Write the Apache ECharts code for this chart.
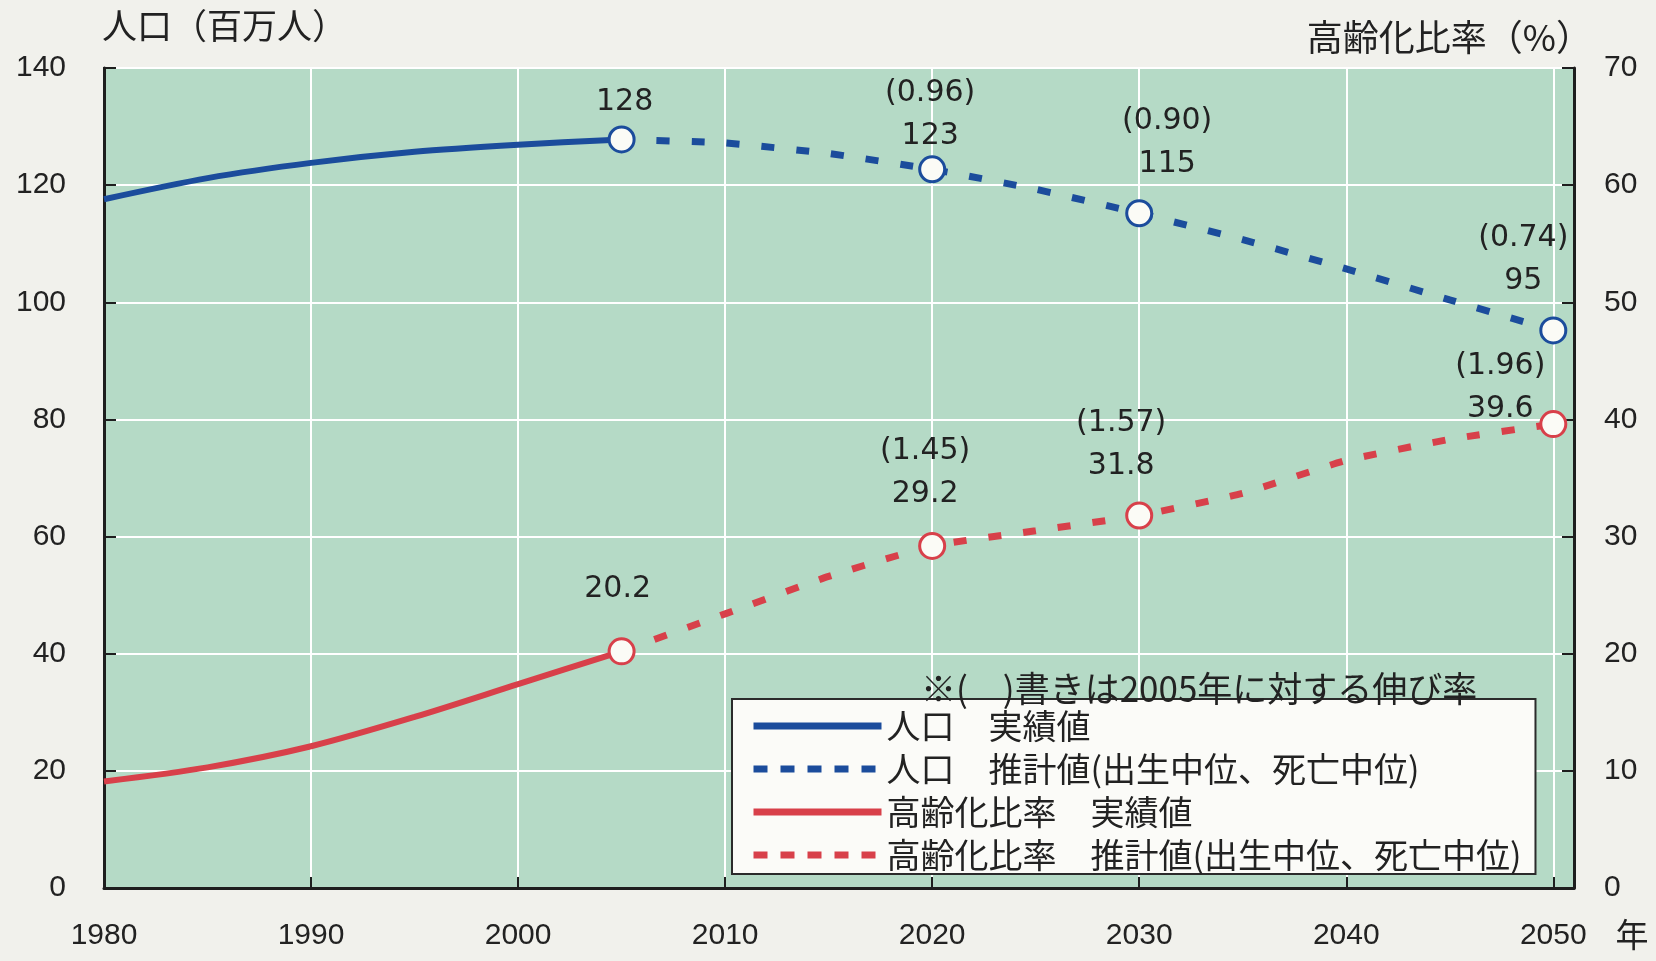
<!DOCTYPE html>
<html><head><meta charset="utf-8">
<script src="https://cdn.jsdelivr.net/npm/echarts@6/dist/echarts.min.js"></script>
<style>html,body{margin:0;padding:0;background:#f1f1ec;} #c{width:1656px;height:961px;}</style>
</head><body><div id="c"></div>
<script>
// ---- data ----
const yearsActual = [1980, 1985, 1990, 1995, 2000, 2005];
const popActual   = [117.6, 121.2, 123.8, 125.7, 126.9, 127.8];
const agingActual = [9.1, 10.3, 12.1, 14.6, 17.4, 20.2];
const yearsProj   = [2005, 2010, 2015, 2020, 2025, 2030, 2035, 2040, 2045, 2050];
const popProj     = [127.8, 127.2, 125.4, 122.7, 119.3, 115.2, 110.7, 105.7, 100.4, 95.2];
const agingProj   = [20.2, 23.4, 26.6, 29.2, 30.5, 31.8, 33.7, 36.5, 38.3, 39.6];
const markYears   = [2005, 2020, 2030, 2050];
const popMarkLabels   = ['128', '123', '115', '95'];
const popGrowth       = ['', '(0.96)', '(0.90)', '(0.74)'];
const agingMarkLabels = ['20.2', '29.2', '31.8', '39.6'];
const agingGrowth     = ['', '(1.45)', '(1.57)', '(1.96)'];
const seriesNames = ['人口\u3000実績値', '人口\u3000推計値(出生中位、死亡中位)', '高齢化比率\u3000実績値', '高齢化比率\u3000推計値(出生中位、死亡中位)'];
const leftAxisTitle = '人口（百万人）';
const rightAxisTitle = '高齢化比率（%）';
const xUnit = '年';
const noteText = '※(\u3000)書きは2005年に対する伸び率';

// ---- styles ----
const BLUE = '#1b4c9c', RED = '#d8404a', TXT = '#222';
const CJK = '"Noto Sans CJK JP", "Noto Sans", sans-serif';
const NUM = '"Liberation Sans", Arial, sans-serif';
const LBL = '"DejaVu Sans", "Liberation Sans", sans-serif';
const DASH = [13, 22];
const popOffsets = [[3, -2], [-2, 2], [28, -14], [-30, -14]];
const agingOffsets = [[-4, -27], [-7, -16], [-18, -14], [-53, 21]];

const zip = (xs, ys) => xs.map((x, i) => [x, ys[i]]);
function markData(projYears, projVals, labels, growth, offsets) {
  return markYears.map((y, i) => ({
    value: [y, projVals[projYears.indexOf(y)]],
    lab: labels[i], gr: growth[i],
    label: { offset: offsets[i] }
  }));
}
const labelCfg = {
  show: true, position: 'top', distance: 0,
  formatter: p => p.data.gr ? `{g|${p.data.gr}}\n{v|${p.data.lab}}` : `{v|${p.data.lab}}`,
  rich: {
    g: { fontFamily: LBL, fontSize: 30, color: TXT, lineHeight: 43, align: 'center' },
    v: { fontFamily: LBL, fontSize: 30, color: TXT, lineHeight: 43, align: 'center' }
  }
};
const legendLine = [
  { width: 7, type: 'solid' }, { width: 7, type: [14, 13] },
  { width: 7, type: 'solid' }, { width: 7, type: [14, 13] }
];

const chart = echarts.init(document.getElementById('c'));
chart.setOption({
  backgroundColor: '#f1f1ec',
  animation: false,
  grid: { left: 104, right: 82, top: 68, bottom: 73, show: true, backgroundColor: '#b5dac6', borderColor: '#2b2b2b', borderWidth: 2 },
  xAxis: {
    type: 'value', min: 1980, max: 2051, interval: 10,
    axisLine: { show: true, lineStyle: { color: '#1e1e1e', width: 3 } },
    axisTick: { show: true, inside: true, length: 11, lineStyle: { color: '#1e1e1e', width: 2 } },
    axisLabel: { margin: 33, fontFamily: NUM, fontSize: 30, color: TXT, formatter: v => (v % 10 === 0 ? String(v) : '') },
    splitLine: { show: true, lineStyle: { color: '#ffffff', width: 2 } }
  },
  yAxis: [
    {
      type: 'value', min: 0, max: 140, interval: 20,
      axisLine: { show: true, lineStyle: { color: '#1e1e1e', width: 3 } },
      axisTick: { show: true, inside: true, length: 12, lineStyle: { color: '#1e1e1e', width: 2 } },
      axisLabel: { margin: 38, fontFamily: NUM, fontSize: 30, color: TXT },
      splitLine: { show: true, lineStyle: { color: '#ffffff', width: 2 } }
    },
    {
      type: 'value', min: 0, max: 70, interval: 10, position: 'right',
      axisLine: { show: true, lineStyle: { color: '#1e1e1e', width: 3 } },
      axisTick: { show: true, inside: true, length: 12, lineStyle: { color: '#1e1e1e', width: 2 } },
      axisLabel: { margin: 30, fontFamily: NUM, fontSize: 30, color: TXT },
      splitLine: { show: false }
    }
  ],
  legend: {
    orient: 'vertical', left: 732, top: 699,
    data: seriesNames.map((n, i) => ({ name: n, lineStyle: legendLine[i] })),
    backgroundColor: '#fbfbf8', borderColor: '#2b2b2b', borderWidth: 2,
    padding: [10, 14, 2, 18], itemGap: 9, itemWidth: 128, itemHeight: 20,
    itemStyle: { color: 'transparent', borderColor: 'transparent', borderWidth: 0, opacity: 0 },
    textStyle: { fontFamily: CJK, fontSize: 34, color: TXT, lineHeight: 34 },
    selectedMode: false
  },
  graphic: [
    { type: 'text', x: 102, y: 26, style: { text: leftAxisTitle, font: '35px ' + CJK, fill: TXT, align: 'left', verticalAlign: 'middle' } },
    { type: 'text', x: 1592, y: 37, style: { text: rightAxisTitle, font: '36px ' + CJK, fill: TXT, align: 'right', verticalAlign: 'middle' } },
    { type: 'text', x: 921, y: 689, z: 100, style: { text: noteText, font: '35px ' + CJK, fill: TXT, align: 'left', verticalAlign: 'middle' } },
    { type: 'text', x: 1632, y: 934, style: { text: xUnit, font: '33px ' + CJK, fill: TXT, align: 'center', verticalAlign: 'middle' } }
  ],
  series: [
    { name: seriesNames[0], type: 'line', yAxisIndex: 0, data: zip(yearsActual, popActual), smooth: 0.3, symbol: 'none',
      lineStyle: { color: BLUE, width: 6 }, itemStyle: { color: BLUE }, z: 3 },
    { name: seriesNames[1], type: 'line', yAxisIndex: 0, data: zip(yearsProj, popProj), smooth: 0.15, symbol: 'none',
      lineStyle: { color: BLUE, width: 7, type: DASH }, itemStyle: { color: BLUE }, z: 3 },
    { name: seriesNames[2], type: 'line', yAxisIndex: 1, data: zip(yearsActual, agingActual), smooth: 0.3, symbol: 'none',
      lineStyle: { color: RED, width: 6 }, itemStyle: { color: RED }, z: 3 },
    { name: seriesNames[3], type: 'line', yAxisIndex: 1, data: zip(yearsProj, agingProj), smooth: 0.15, symbol: 'none',
      lineStyle: { color: RED, width: 7, type: DASH }, itemStyle: { color: RED }, z: 3 },
    { name: 'popMarks', type: 'scatter', yAxisIndex: 0, symbol: 'circle', symbolSize: 25, z: 5,
      itemStyle: { color: '#fbfbf6', borderColor: BLUE, borderWidth: 3, opacity: 1 },
      data: markData(yearsProj, popProj, popMarkLabels, popGrowth, popOffsets), label: labelCfg },
    { name: 'agingMarks', type: 'scatter', yAxisIndex: 1, symbol: 'circle', symbolSize: 25, z: 5,
      itemStyle: { color: '#fbfbf6', borderColor: RED, borderWidth: 3, opacity: 1 },
      data: markData(yearsProj, agingProj, agingMarkLabels, agingGrowth, agingOffsets), label: labelCfg }
  ]
});
</script></body></html>
